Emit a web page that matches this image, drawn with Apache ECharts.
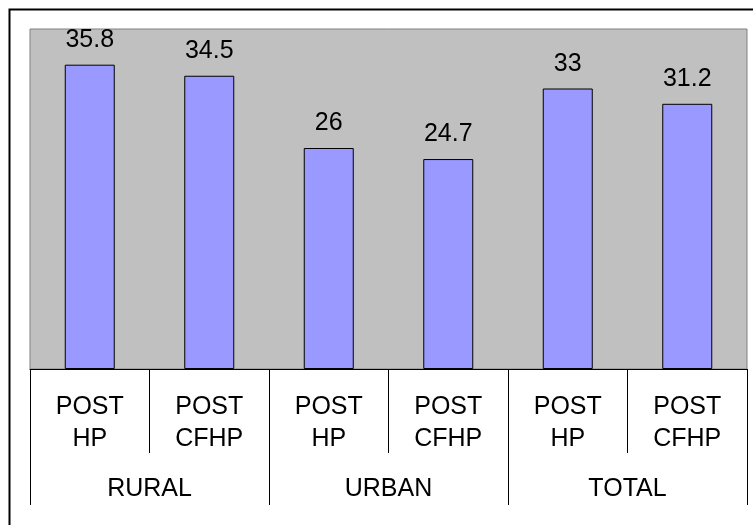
<!DOCTYPE html>
<html>
<head>
<meta charset="utf-8">
<script src="https://cdn.jsdelivr.net/npm/echarts@6/dist/echarts.min.js"></script>
<style>
  html, body { margin: 0; padding: 0; background: #fff; }
  #chart { width: 753px; height: 525px; }
</style>
</head>
<body>
<div id="chart"></div>
<script>
// data
const groups = ['RURAL', 'URBAN', 'TOTAL']
const periods = ['POST\nHP', 'POST\nCFHP']
const categories = groups.flatMap(g => periods.map(p => p))
const values = [35.8, 34.5, 26, 24.7, 33, 31.2]

const fontFamily = 'Liberation Sans, Arial, sans-serif'

const chart = echarts.init(document.getElementById('chart'))

const option = {
    animation: false,
    backgroundColor: '#fff',
    graphic: [
        {
            // outer frame
            type: 'rect',
            shape: { x: 9.5, y: 9.5, width: 800, height: 600 },
            style: { fill: 'none', stroke: '#000', lineWidth: 2 },
            z: 100
        }
    ],
    grid: {
        left: 30,
        right: 6,
        top: 29,
        bottom: 156,
        show: true,
        backgroundColor: '#c0c0c0',
        borderColor: '#808080',
        borderWidth: 1
    },
    xAxis: [
        {
            type: 'category',
            position: 'bottom',
            data: categories,
            axisLine: { lineStyle: { color: '#000', width: 1 } },
            axisTick: {
                show: true,
                length: 84,
                lineStyle: { color: '#000', width: 1 }
            },
            axisLabel: {
                interval: 0,
                margin: 22,
                color: '#000',
                fontSize: 25,
                lineHeight: 32,
                fontFamily: fontFamily
            },
            splitLine: { show: false }
        },
        {
            type: 'category',
            position: 'bottom',
            data: groups,
            axisLine: { show: false },
            axisTick: {
                show: true,
                length: 136,
                lineStyle: { color: '#000', width: 1 }
            },
            axisLabel: {
                interval: 0,
                margin: 104,
                color: '#000',
                fontSize: 25,
                lineHeight: 32,
                fontFamily: fontFamily
            },
            splitLine: { show: false }
        }
    ],
    yAxis: {
        type: 'value',
        min: 0,
        max: 40,
        show: false,
        splitLine: { show: false }
    },
    series: [
        {
            type: 'bar',
            xAxisIndex: 0,
            data: values,
            barWidth: 50,
            itemStyle: {
                color: '#9999ff',
                borderColor: '#000',
                borderWidth: 1
            },
            label: {
                show: true,
                position: 'top',
                distance: 12,
                color: '#000',
                fontSize: 25,
                fontFamily: fontFamily
            }
        }
    ]
}

chart.setOption(option)
</script>
</body>
</html>
